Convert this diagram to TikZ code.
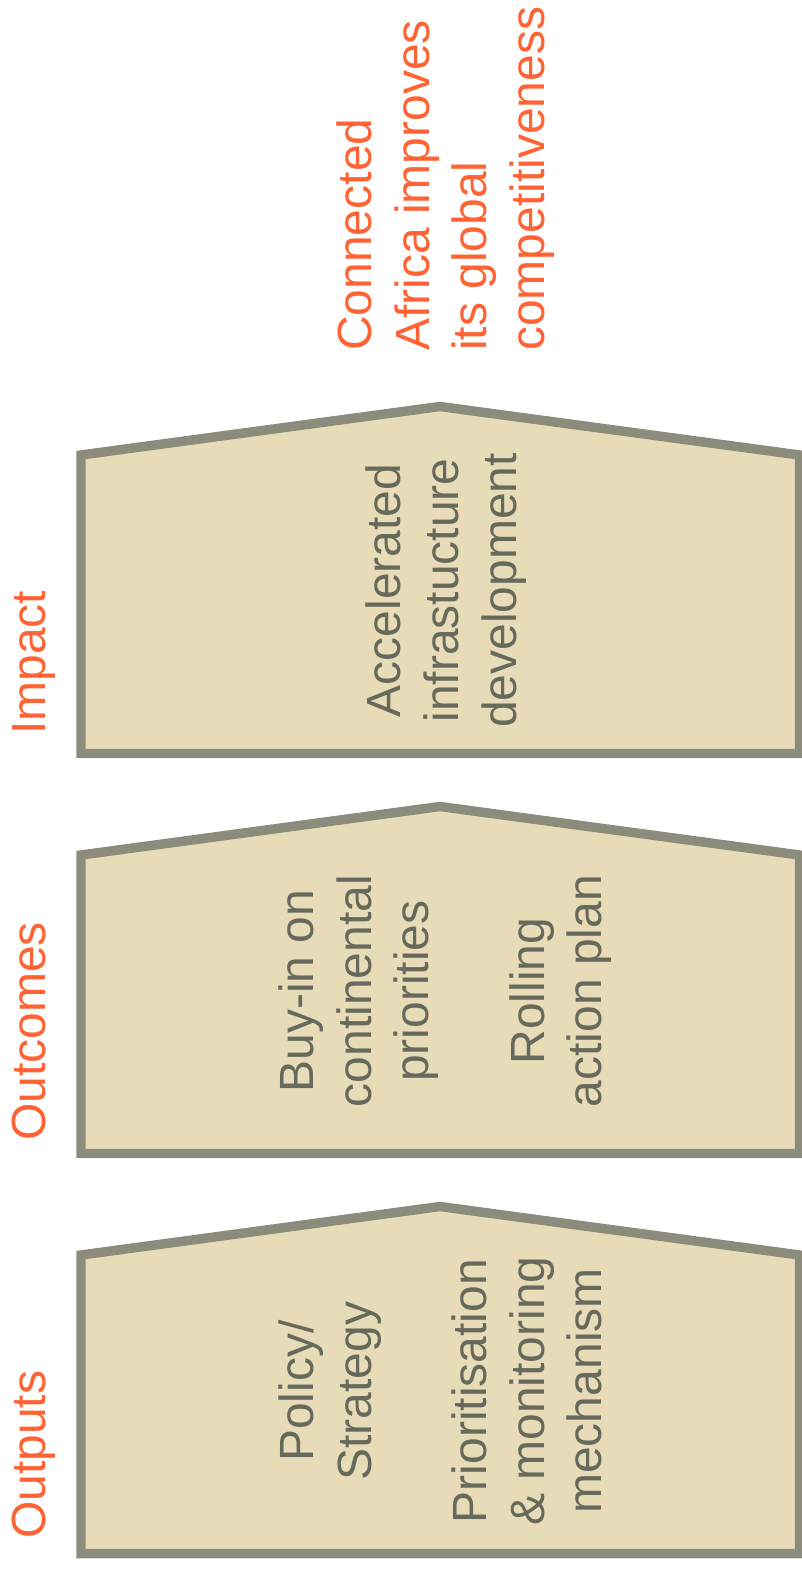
\documentclass[tikz,border=0pt]{standalone}
\usepackage{fontspec}
\setmainfont{Liberation Sans}
\definecolor{boxfill}{RGB}{232,220,184}
\definecolor{boxline}{RGB}{140,140,124}
\definecolor{boxtext}{RGB}{103,105,92}
\definecolor{accent}{RGB}{255,99,51}
\begin{document}
\begin{tikzpicture}[x=0.75pt,y=-0.75pt,
  house/.style={fill=boxfill,draw=boxline,line width=7.1pt,line join=miter},
  intext/.style={rotate=90,inner sep=0pt,anchor=base,text=boxtext,font=\fontsize{36}{43.2}\selectfont},
  leftlabel/.style={rotate=90,inner sep=0pt,anchor=base west,text=accent,font=\fontsize{36}{43.2}\selectfont}]
\useasboundingbox (0,0) rectangle (802,1570);

% houses
\draw[house] (81,455) -- (440,406.5) -- (799.5,455) -- (799.5,753.5) -- (81,753.5) -- cycle;
\draw[house] (81,855) -- (440,806.5) -- (799.5,855) -- (799.5,1153.5) -- (81,1153.5) -- cycle;
\draw[house] (81,1255) -- (440,1206.5) -- (799.5,1255) -- (799.5,1553.5) -- (81,1553.5) -- cycle;

% goal text
\node[leftlabel] (goal1) at (371.5,351) {Connected};
\node[leftlabel] (goal2) at (429,351) {Africa improves};
\node[leftlabel] (goal3) at (486.5,351) {its global};
\node[leftlabel] (goal4) at (544,351) {competitiveness};

% row labels
\node[leftlabel] (labimpact) at (45.5,735) {Impact};
\node[leftlabel] (laboutcomes) at (45.5,1141) {Outcomes};
\node[leftlabel] (laboutputs) at (45.5,1539) {Outputs};

% impact box text
\node[intext] (imp1) at (400.7,590.5) {Accelerated};
\node[intext] (imp2) at (458.3,590.5) {infrastucture};
\node[intext] (imp3) at (516.2,590.5) {development};

% outcomes box text
\node[intext] (oc1) at (313.3,991) {Buy-in on};
\node[intext] (oc2) at (371,991) {continental};
\node[intext] (oc3) at (428.7,991) {priorities};
\node[intext] (oc4) at (544.1,991) {Rolling};
\node[intext] (oc5) at (601.8,991) {action plan};

% outputs box text
\node[intext] (op1) at (313.3,1391) {Policy/};
\node[intext] (op2) at (371,1391) {Strategy};
\node[intext] (op3) at (486.4,1391) {Prioritisation};
\node[intext] (op4) at (544.1,1391) {\& monitoring};
\node[intext] (op5) at (601.8,1391) {mechanism};
\end{tikzpicture}
\end{document}
